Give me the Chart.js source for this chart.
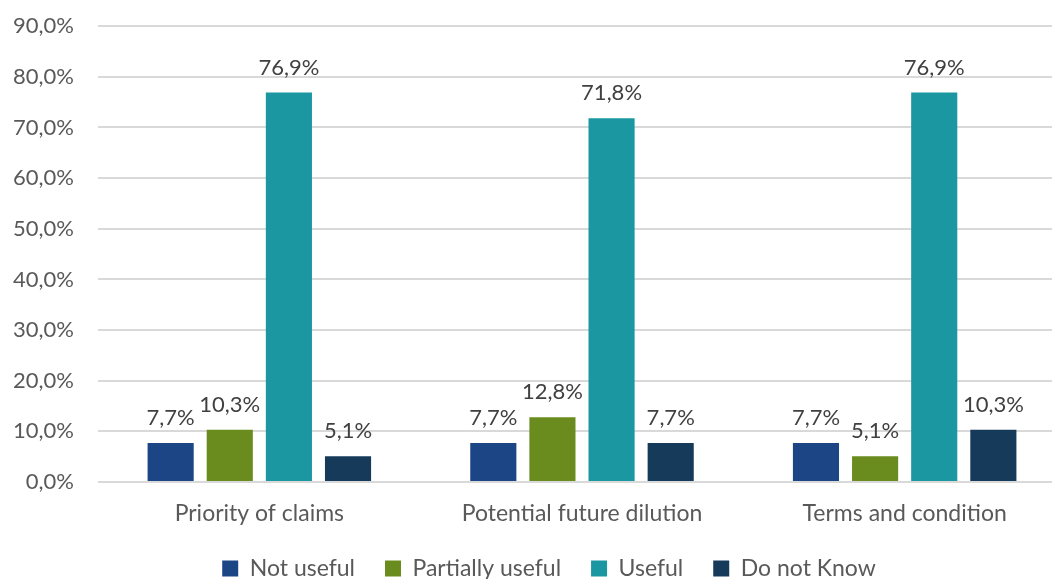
<!DOCTYPE html>
<html lang="en">
<head>
  <meta charset="UTF-8" />
  <title>Usefulness chart</title>
  <script src="https://cdn.jsdelivr.net/npm/chart.js"></script>
  <style>
    html, body { margin: 0; padding: 0; background: #fff; overflow: hidden; }
    /* le graphique d'origine est rogné à droite et en haut */
    #wrap { width: 1066px; height: 590px; margin-top: -11px; }
  </style>
</head>
<body>
  <div id="wrap"><canvas id="chart"></canvas></div>
  <script>
    // données
    const categories = ['Priority of claims', 'Potential future dilution', 'Terms and condition'];
    const notUseful = [7.7, 7.7, 7.7];
    const partiallyUseful = [10.3, 12.8, 5.1];
    const useful = [76.9, 71.8, 76.9];
    const doNotKnow = [5.1, 7.7, 10.3];

    const FONT = 'Lato, "Open Sans", sans-serif';

    function pct(v) {
      return v.toFixed(1).replace('.', ',') + '%';
    }

    // étiquettes au-dessus des barres
    const barLabels = {
      id: 'barLabels',
      afterDatasetsDraw(chart) {
        const ctx = chart.ctx;
        ctx.save();
        ctx.font = '22px ' + FONT;
        ctx.fillStyle = '#404040';
        ctx.textAlign = 'center';
        ctx.textBaseline = 'alphabetic';
        chart.data.datasets.forEach((ds, i) => {
          chart.getDatasetMeta(i).data.forEach((bar, j) => {
            ctx.fillText(pct(ds.data[j]), bar.x, bar.y - 18);
          });
        });
        ctx.restore();
      }
    };

    // légende plus basse et un peu décalée à droite
    const legendTweak = {
      id: 'legendTweak',
      beforeInit(chart) {
        const fit = chart.legend.fit;
        chart.legend.fit = function () {
          fit.bind(chart.legend)();
          this.height = 52;
        };
      },
      afterLayout(chart) {
        chart.legend.left += 16;
        chart.legend.right += 16;
      }
    };

    new Chart(document.getElementById('chart'), {
      type: 'bar',
      data: {
        labels: categories,
        datasets: [
          { label: 'Not useful', data: notUseful, backgroundColor: '#1b4584' },
          { label: 'Partially useful', data: partiallyUseful, backgroundColor: '#6a8c1f' },
          { label: 'Useful', data: useful, backgroundColor: '#1a97a1' },
          { label: 'Do not Know', data: doNotKnow, backgroundColor: '#163a59' }
        ]
      },
      options: {
        responsive: true,
        maintainAspectRatio: false,
        animation: false,
        layout: { padding: 0 },
        datasets: { bar: { categoryPercentage: 0.733, barPercentage: 0.78 } },
        scales: {
          x: {
            grid: { display: false },
            border: { display: false },
            ticks: { color: '#595959', font: { family: FONT, size: 23 }, padding: 10 },
            afterFit(scale) { scale.height = 45; }
          },
          y: {
            min: 0,
            max: 90,
            ticks: {
              stepSize: 10,
              color: '#595959',
              font: { family: FONT, size: 22 },
              padding: 24,
              callback: v => pct(v)
            },
            grid: { color: '#d9d9d9', lineWidth: 2, drawTicks: false },
            border: { display: false },
            afterFit(scale) { scale.width = 98; }
          }
        },
        plugins: {
          legend: {
            position: 'bottom',
            labels: {
              color: '#595959',
              font: { family: FONT, size: 23 },
              boxWidth: 16,
              boxHeight: 16,
              padding: 30
            }
          },
          tooltip: { enabled: false }
        }
      },
      plugins: [barLabels, legendTweak]
    });
  </script>
</body>
</html>
